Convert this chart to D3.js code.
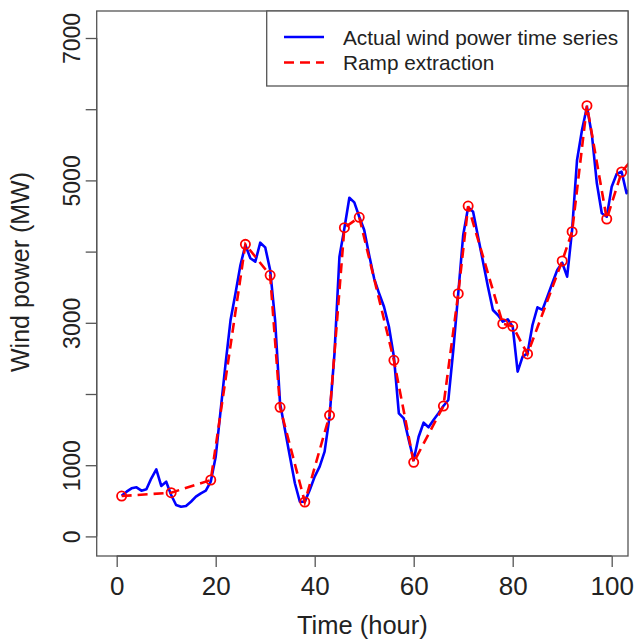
<!DOCTYPE html>
<html>
<head>
<meta charset="utf-8">
<script src="https://cdn.jsdelivr.net/npm/d3@7"></script>
<style>
html,body{margin:0;padding:0;background:#fff;}
svg{display:block;}
text{font-family:"Liberation Sans",Arial,sans-serif;fill:#222;}
</style>
</head>
<body>
<svg id="chart" width="634" height="641"></svg>
<script>
// ---- data ----
const hours = d3.range(1, 105);
const actualPower = [570,628,675,689,642,661,816,942,708,768,582,441,417,427,487,558,605,642,768,1120,
  1775,2431,3039,3414,3812,4093,3906,3858,4125,4060,3742,3039,1869,1494,1119,746,487,487,652,839,
  979,1190,1682,2571,3929,4327,4757,4692,4490,4303,3952,3625,3414,3226,2945,2524,1729,1658,1354,1073,
  1400,1597,1532,1635,1729,1831,1916,2618,3414,4233,4622,4561,4210,3858,3507,3180,3110,3016,3049,2945,
  2313,2524,2571,2969,3218,3180,3367,3555,3742,3844,3648,4303,5287,5708,6035,5638,4959,4538,4490,4911,
  5090,5122,4819,4911];
const rampHours = [1,11,19,26,31,33,38,43,46,49,56,60,66,69,71,78,80,83,90,92,95,99,102,106];
const rampPower = [567,614,792,4102,3667,1813,483,1700,4336,4482,2473,1040,1831,3409,4640,2988,2951,2562,3868,4280,6049,4458,5118,5455];
const xTicks = [0,20,40,60,80,100];
const yTicks = [0,1000,2000,3000,4000,5000,6000,7000];
const yTickLabels = {0:"0",1000:"1000",3000:"3000",5000:"5000",7000:"7000"};
const legendLabels = ["Actual wind power time series","Ramp extraction"];

// ---- layout ----
const box = {left:96.7, right:628, top:11, bottom:556};
const x = d3.scaleLinear().domain([0,100]).range([116.7,611.7]);
const y = d3.scaleLinear().domain([0,7000]).range([536.4,38]);
const svg = d3.select("#chart");
const axisColor = "#555";
const FONT = "Liberation Sans, Arial, sans-serif";

svg.append("clipPath").attr("id","clip").append("rect")
  .attr("x",box.left).attr("y",box.top)
  .attr("width",box.right-box.left).attr("height",box.bottom-box.top);

const plot = svg.append("g").attr("clip-path","url(#clip)");

const blueLine = d3.line().x((d,i)=>x(hours[i])).y(d=>y(d));
plot.append("path").datum(actualPower)
  .attr("d",blueLine).attr("fill","none").attr("stroke","#0000FF")
  .attr("stroke-width",2.6).attr("stroke-linejoin","round");

const redLine = d3.line().x((d,i)=>x(rampHours[i])).y(d=>y(d));
plot.append("path").datum(rampPower)
  .attr("d",redLine).attr("fill","none").attr("stroke","#FF0000")
  .attr("stroke-width",2.6).attr("stroke-dasharray","10,6");

plot.selectAll("circle.ramp").data(rampPower).enter().append("circle")
  .attr("class","ramp")
  .attr("cx",(d,i)=>x(rampHours[i])).attr("cy",d=>y(d)).attr("r",4.6)
  .attr("fill","none").attr("stroke","#FF0000").attr("stroke-width",1.8);

// box
svg.append("rect").attr("x",box.left).attr("y",box.top)
  .attr("width",box.right-box.left).attr("height",box.bottom-box.top)
  .attr("fill","none").attr("stroke",axisColor).attr("stroke-width",1.3);

// x axis
const xAxis = d3.axisBottom(x).tickValues(xTicks).tickSize(11).tickPadding(6).tickFormat(d3.format("d"));
const gx = svg.append("g").attr("transform",`translate(0,${box.bottom})`).call(xAxis);
gx.select(".domain").attr("d",`M${x(0)},0H${x(100)}`).attr("stroke",axisColor).attr("stroke-width",1.3);
gx.selectAll(".tick line").attr("stroke",axisColor).attr("stroke-width",1.3);
gx.selectAll(".tick text").attr("font-size",26).attr("fill","#222")
  .attr("font-family",FONT).attr("y",595-box.bottom).attr("dy",0);

// y axis
const yAxis = d3.axisLeft(y).tickValues(yTicks).tickSize(11).tickPadding(0).tickFormat(d=>yTickLabels[d]||"");
const gy = svg.append("g").attr("transform",`translate(${box.left},0)`).call(yAxis);
gy.select(".domain").attr("d",`M0,${y(0)}V${y(7000)}`).attr("stroke",axisColor).attr("stroke-width",1.3);
gy.selectAll(".tick line").attr("stroke",axisColor).attr("stroke-width",1.3);
gy.selectAll(".tick text").attr("font-size",23).attr("fill","#222")
  .attr("font-family",FONT)
  .attr("text-anchor","middle").attr("x",0).attr("y",0).attr("dy",0)
  .attr("transform",`translate(${80-box.left},0) rotate(-90)`);

// axis titles
svg.append("text").attr("x",(box.left+box.right)/2).attr("y",634)
  .attr("text-anchor","middle").attr("font-size",25.5).text("Time (hour)");
svg.append("text").attr("transform",`translate(29,272) rotate(-90)`)
  .attr("text-anchor","middle").attr("font-size",25).text("Wind power (MW)");

// legend
const lg = svg.append("g");
lg.append("rect").attr("x",266.7).attr("y",box.top).attr("width",box.right-266.7).attr("height",75)
  .attr("fill","#fff").attr("stroke",axisColor).attr("stroke-width",1.3);
const legendStyles = [{c:"#0000FF",dash:null},{c:"#FF0000",dash:"10,6"}];
legendLabels.forEach((lab,i)=>{
  const ly = 37 + i*25.5;
  lg.append("line").attr("x1",284).attr("x2",324).attr("y1",ly).attr("y2",ly)
    .attr("stroke",legendStyles[i].c).attr("stroke-width",2.6)
    .attr("stroke-dasharray",legendStyles[i].dash);
  lg.append("text").attr("x",343).attr("y",ly).attr("dominant-baseline","central")
    .attr("font-size",20.8).text(lab);
});
</script>
</body>
</html>
